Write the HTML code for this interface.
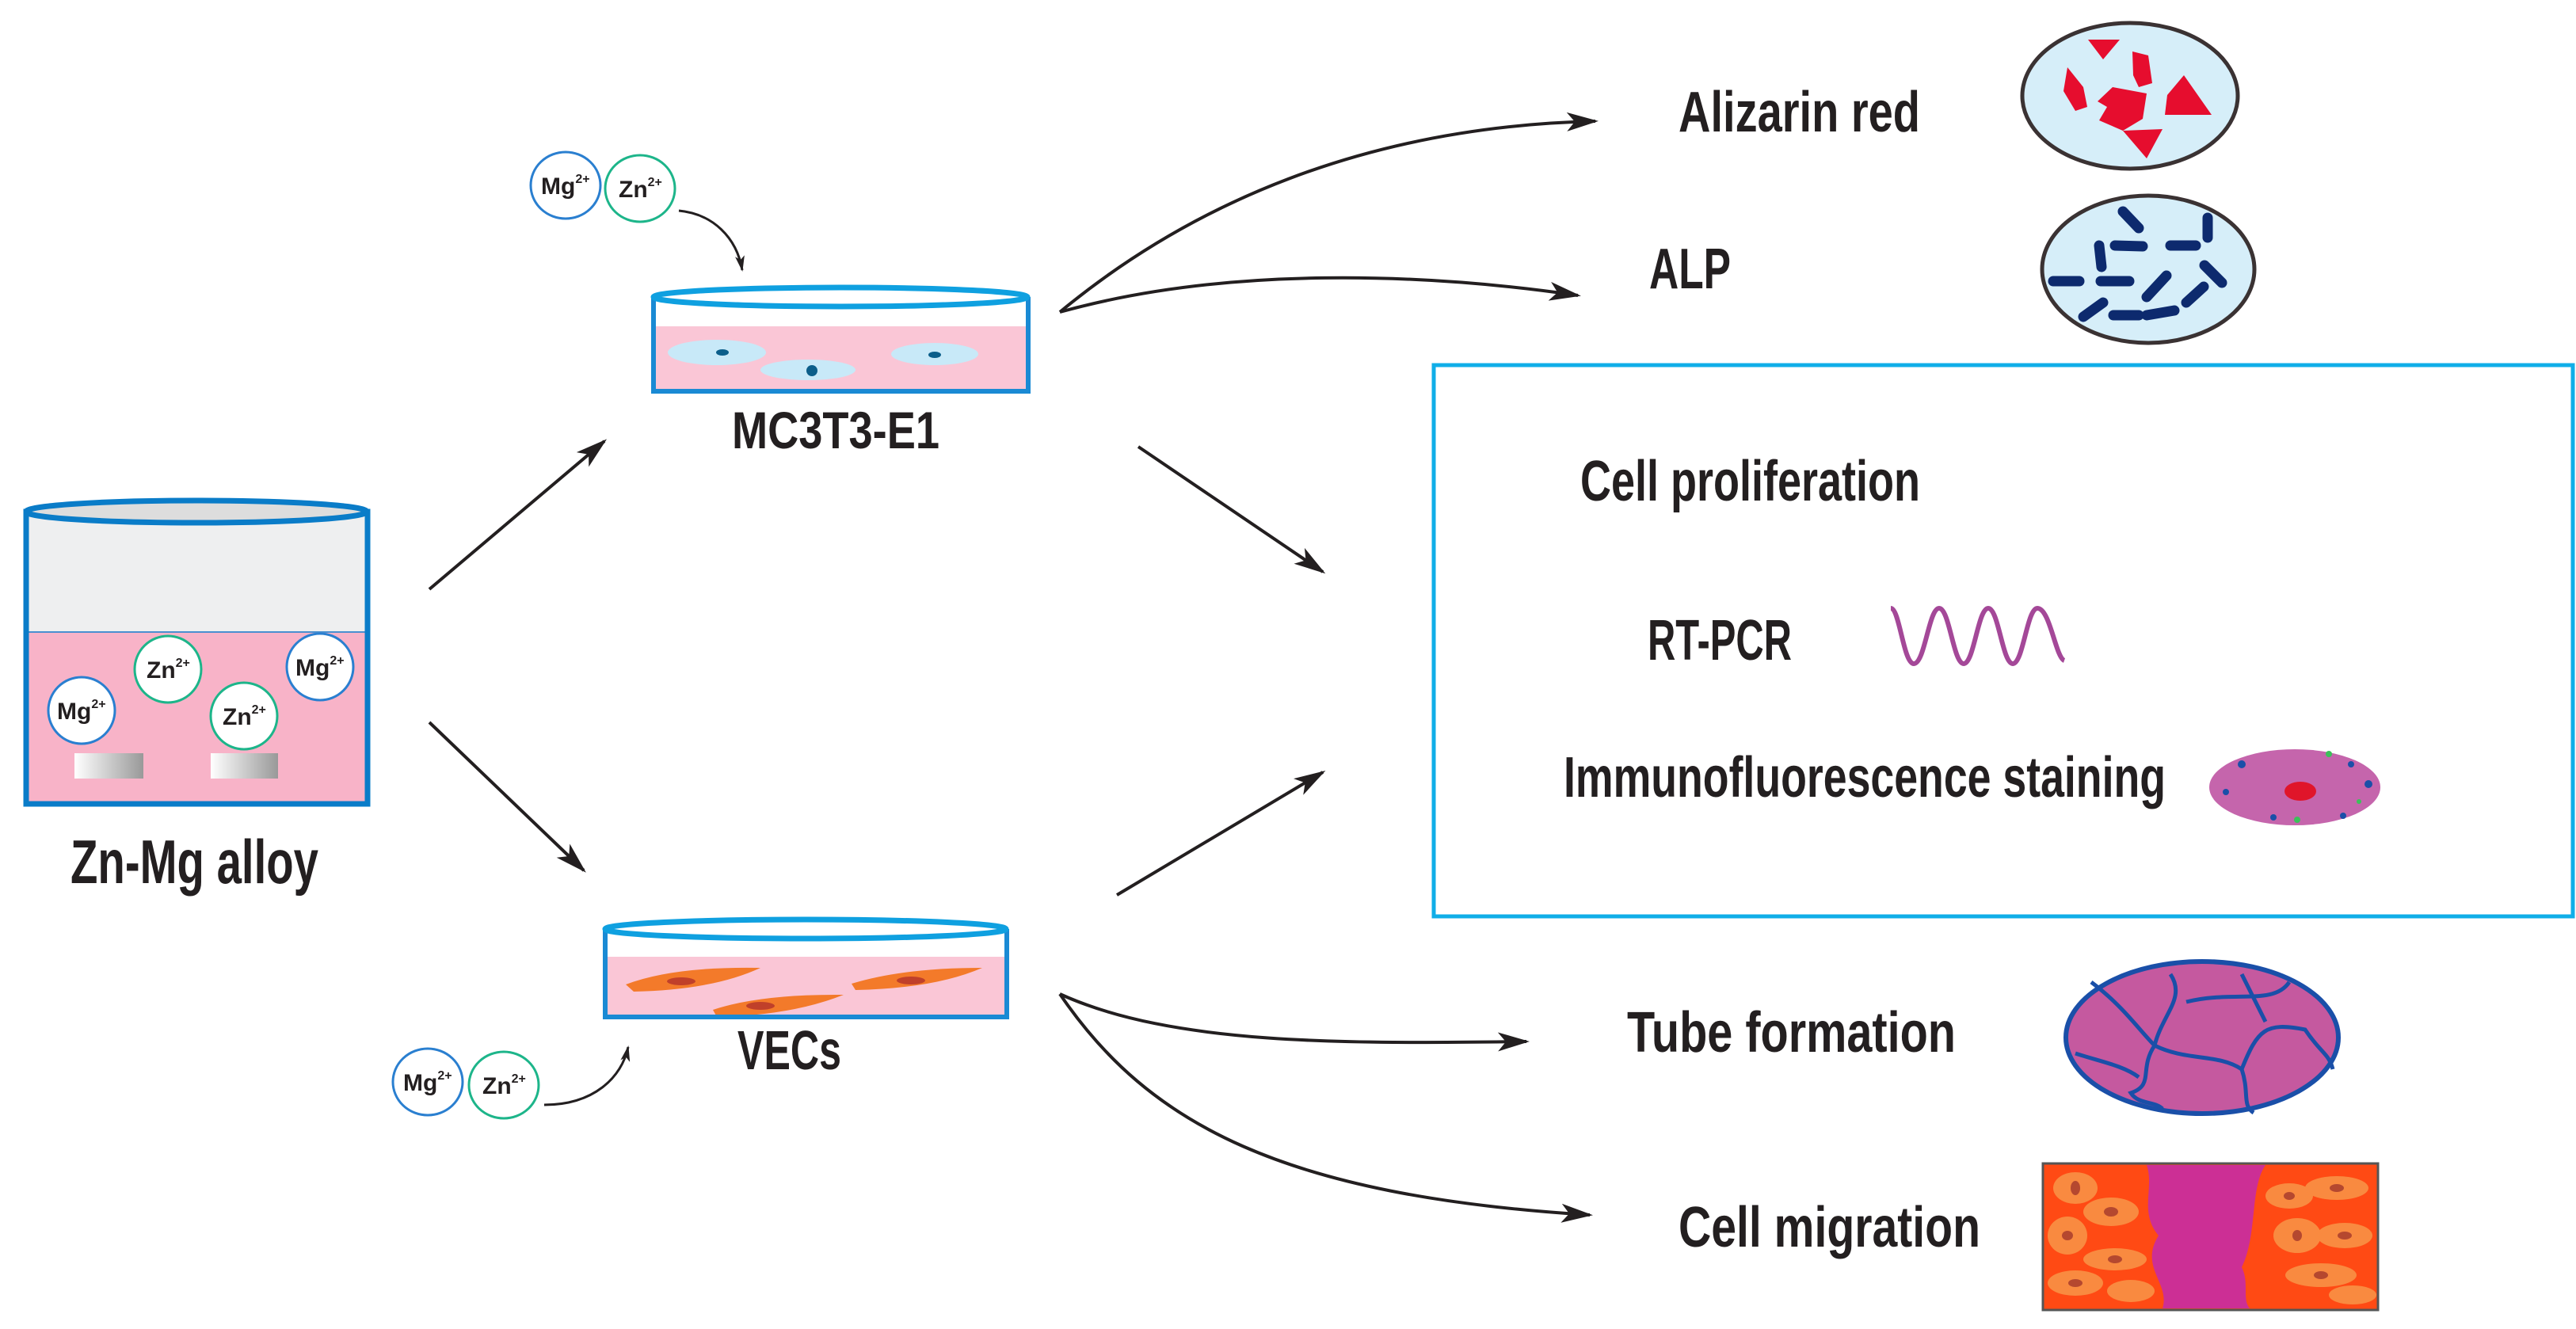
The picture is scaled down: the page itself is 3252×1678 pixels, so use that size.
<!DOCTYPE html>
<html><head><meta charset="utf-8"><style>
html,body{margin:0;padding:0;background:#fff;}
svg{display:block;}
text{font-family:"Liberation Sans",sans-serif;fill:#231f20;font-weight:bold;}
</style></head><body>
<svg width="3252" height="1678" viewBox="0 0 3252 1678" xmlns="http://www.w3.org/2000/svg">
<defs>
<marker id="ah" viewBox="0 0 20 12" refX="18" refY="6" markerWidth="20" markerHeight="12" markerUnits="userSpaceOnUse" orient="auto">
<path d="M0,0 L20,6 L0,12 L5,6 Z" fill="#231f20"/>
</marker>
<marker id="ahb" viewBox="0 0 20 12" refX="18" refY="6" markerWidth="40" markerHeight="24" markerUnits="userSpaceOnUse" orient="auto">
<path d="M0,0 L20,6 L0,12 L5,6 Z" fill="#231f20"/>
</marker>
<linearGradient id="bar" x1="0" x2="1"><stop offset="0" stop-color="#fff"/><stop offset="1" stop-color="#999"/></linearGradient>
</defs>

<!-- Big beaker -->
<rect x="33" y="646" width="431" height="369" fill="#eeeff0"/>
<rect x="33" y="798" width="431" height="217" fill="#f8b3c8"/>
<line x1="33" y1="798" x2="464" y2="798" stroke="#4a90d0" stroke-width="2"/>
<rect x="33" y="646" width="431" height="369" fill="none" stroke="#0a7cc8" stroke-width="7"/>
<ellipse cx="248" cy="646" rx="215" ry="14" fill="#ddd" stroke="#0a7cc8" stroke-width="7"/>
<rect x="94" y="951" width="87" height="32" fill="url(#bar)"/>
<rect x="266" y="951" width="85" height="32" fill="url(#bar)"/>
<g>
<circle cx="103" cy="897" r="42" fill="#fff" stroke="#2a7fd0" stroke-width="3"/><text x="72" y="908" font-size="30">Mg<tspan font-size="16" dy="-14">2+</tspan></text>
<circle cx="212" cy="845" r="42" fill="#fff" stroke="#1db58a" stroke-width="3"/><text x="185" y="856" font-size="30">Zn<tspan font-size="16" dy="-14">2+</tspan></text>
<circle cx="308" cy="904" r="42" fill="#fff" stroke="#1db58a" stroke-width="3"/><text x="281" y="915" font-size="30">Zn<tspan font-size="16" dy="-14">2+</tspan></text>
<circle cx="404" cy="842" r="42" fill="#fff" stroke="#2a7fd0" stroke-width="3"/><text x="373" y="853" font-size="30">Mg<tspan font-size="16" dy="-14">2+</tspan></text>
</g>
<text x="89" y="1115" font-size="78" textLength="313" lengthAdjust="spacingAndGlyphs">Zn-Mg alloy</text>

<!-- MC3T3 dish -->
<rect x="825" y="375" width="473" height="119" fill="#fff"/>
<rect x="825" y="412" width="473" height="82" fill="#fac6d6"/>
<g fill="#c8e9f8">
<ellipse cx="905" cy="445" rx="62" ry="16"/><ellipse cx="1020" cy="467" rx="60" ry="13"/><ellipse cx="1180" cy="447" rx="55" ry="14"/>
</g>
<g fill="#0b5e8a"><ellipse cx="912" cy="445" rx="8" ry="4"/><circle cx="1025" cy="468" r="7"/><ellipse cx="1180" cy="448" rx="8" ry="4"/></g>
<path d="M825,375 V494 H1298 V375" fill="none" stroke="#1a8ad4" stroke-width="6"/>
<ellipse cx="1061" cy="375" rx="236" ry="12" fill="none" stroke="#0fa0e0" stroke-width="7"/>
<text x="924" y="566" font-size="66" textLength="262" lengthAdjust="spacingAndGlyphs">MC3T3-E1</text>
<g>
<ellipse cx="714" cy="234" rx="44" ry="42" fill="#fff" stroke="#2a7fd0" stroke-width="3"/><text x="683" y="245" font-size="30">Mg<tspan font-size="16" dy="-14">2+</tspan></text>
<ellipse cx="808" cy="238" rx="44" ry="42" fill="#fff" stroke="#1db58a" stroke-width="3"/><text x="781" y="249" font-size="30">Zn<tspan font-size="16" dy="-14">2+</tspan></text>
</g>
<path d="M857,266 C900,270 930,300 937,341" fill="none" stroke="#231f20" stroke-width="3" marker-end="url(#ah)"/>

<!-- VEC dish -->
<rect x="764" y="1173" width="507" height="111" fill="#fff"/>
<rect x="764" y="1208" width="507" height="76" fill="#fac6d6"/>
<g fill="#f37a2a">
<path d="M790,1243 Q850,1220 960,1222 Q900,1250 800,1252 Z"/>
<path d="M900,1275 Q960,1255 1065,1256 Q1000,1282 905,1284 Z"/>
<path d="M1075,1242 Q1140,1222 1240,1222 Q1180,1248 1080,1250 Z"/>
</g>
<g fill="#c0402a"><ellipse cx="860" cy="1239" rx="18" ry="5"/><ellipse cx="960" cy="1270" rx="18" ry="5"/><ellipse cx="1150" cy="1238" rx="18" ry="5"/></g>
<path d="M764,1173 V1284 H1271 V1173" fill="none" stroke="#1a8ad4" stroke-width="6"/>
<ellipse cx="1017" cy="1173" rx="253" ry="12" fill="none" stroke="#0fa0e0" stroke-width="7"/>
<text x="931" y="1350" font-size="70" textLength="131" lengthAdjust="spacingAndGlyphs">VECs</text>
<g>
<ellipse cx="540" cy="1366" rx="44" ry="42" fill="#fff" stroke="#2a7fd0" stroke-width="3"/><text x="509" y="1377" font-size="30">Mg<tspan font-size="16" dy="-14">2+</tspan></text>
<ellipse cx="636" cy="1370" rx="44" ry="42" fill="#fff" stroke="#1db58a" stroke-width="3"/><text x="609" y="1381" font-size="30">Zn<tspan font-size="16" dy="-14">2+</tspan></text>
</g>
<path d="M687,1395 C750,1395 785,1360 793,1322" fill="none" stroke="#231f20" stroke-width="3" marker-end="url(#ah)"/>

<!-- main arrows -->
<g stroke="#231f20" stroke-width="4" fill="none" marker-end="url(#ahb)">
<line x1="542" y1="744" x2="763" y2="557"/>
<line x1="542" y1="912" x2="737" y2="1099"/>
<line x1="1437" y1="564" x2="1670" y2="722"/>
<line x1="1410" y1="1130" x2="1670" y2="975"/>
<path d="M1338,394 C1500,260 1720,160 2014,153"/>
<path d="M1338,394 C1550,335 1800,345 1992,373"/>
<path d="M1338,1255 C1480,1320 1700,1318 1927,1315"/>
<path d="M1338,1255 C1450,1420 1620,1510 2007,1534"/>
</g>

<!-- Right labels -->
<text x="2119" y="166" font-size="72" textLength="305" lengthAdjust="spacingAndGlyphs">Alizarin red</text>
<text x="2082" y="364" font-size="72" textLength="103" lengthAdjust="spacingAndGlyphs">ALP</text>
<text x="1995" y="632" font-size="72" textLength="429" lengthAdjust="spacingAndGlyphs">Cell proliferation</text>
<text x="2080" y="833" font-size="72" textLength="182" lengthAdjust="spacingAndGlyphs">RT-PCR</text>
<text x="1974" y="1006" font-size="72" textLength="760" lengthAdjust="spacingAndGlyphs">Immunofluorescence staining</text>
<text x="2054" y="1328" font-size="72" textLength="415" lengthAdjust="spacingAndGlyphs">Tube formation</text>
<text x="2119" y="1574" font-size="72" textLength="381" lengthAdjust="spacingAndGlyphs">Cell migration</text>

<!-- Box -->
<rect x="1810" y="461" width="1438" height="696" fill="none" stroke="#10aee8" stroke-width="5"/>

<!-- Alizarin dish -->
<ellipse cx="2689" cy="121" rx="136" ry="92" fill="#d6eef9" stroke="#3a3233" stroke-width="5"/>
<g fill="#e60d2e">
<path d="M2636,50 L2676,50 L2655,75 Z"/>
<path d="M2610,85 L2630,110 L2635,135 L2620,140 L2605,115 Z"/>
<path d="M2692,65 L2712,70 L2717,105 L2700,110 L2693,95 Z"/>
<path d="M2667,110 L2710,118 L2705,150 L2680,165 L2650,152 L2660,135 L2648,128 Z"/>
<path d="M2757,95 L2792,145 L2733,145 L2736,120 Z"/>
<path d="M2680,165 L2730,163 L2710,200 Z"/>
</g>
<!-- ALP dish -->
<ellipse cx="2712" cy="340" rx="134" ry="93" fill="#d6eef9" stroke="#3a3233" stroke-width="5"/>
<g stroke="#0d2a6e" stroke-width="13" stroke-linecap="round">
<line x1="2680" y1="267" x2="2700" y2="288"/><line x1="2787" y1="275" x2="2787" y2="300"/>
<line x1="2670" y1="310" x2="2705" y2="311"/><line x1="2740" y1="310" x2="2772" y2="310"/>
<line x1="2650" y1="310" x2="2653" y2="337"/><line x1="2592" y1="355" x2="2625" y2="355"/>
<line x1="2652" y1="355" x2="2688" y2="355"/><line x1="2710" y1="375" x2="2735" y2="348"/>
<line x1="2783" y1="335" x2="2805" y2="357"/><line x1="2760" y1="382" x2="2782" y2="362"/>
<line x1="2630" y1="400" x2="2655" y2="382"/><line x1="2668" y1="398" x2="2700" y2="398"/><line x1="2710" y1="398" x2="2745" y2="392"/>
</g>

<!-- RT-PCR wave -->
<path d="M2387,768 C2398,768 2403,838 2416,838 C2430,838 2435,768 2448,768 C2461,768 2466,838 2479,838 C2492,838 2497,768 2510,768 C2523,768 2528,838 2541,838 C2554,838 2559,768 2572,768 C2588,768 2595,830 2606,834" fill="none" stroke="#a44898" stroke-width="6"/>

<!-- Immuno oval -->
<ellipse cx="2897" cy="994" rx="108" ry="48" fill="#c565ac"/>
<ellipse cx="2904" cy="999" rx="20" ry="12" fill="#e0152a"/>
<g fill="#1a4fa8"><circle cx="2830" cy="965" r="5"/><circle cx="2810" cy="1000" r="4"/><circle cx="2870" cy="1032" r="4"/><circle cx="2958" cy="1030" r="4"/><circle cx="2990" cy="990" r="5"/><circle cx="2968" cy="965" r="4"/></g>
<g fill="#3cc05a"><circle cx="2940" cy="952" r="4"/><circle cx="2900" cy="1035" r="4"/><circle cx="2978" cy="1012" r="3"/></g>

<!-- Tube formation -->
<ellipse cx="2780" cy="1310" rx="172" ry="96" fill="#c5599f" stroke="#1a4fa8" stroke-width="6"/>
<g fill="none" stroke="#1a4fa8" stroke-width="5">
<path d="M2640,1240 C2680,1270 2700,1300 2720,1320 C2760,1340 2800,1330 2830,1350"/>
<path d="M2720,1320 C2730,1280 2760,1260 2740,1230"/>
<path d="M2760,1265 C2820,1250 2870,1270 2890,1240"/>
<path d="M2830,1350 C2850,1300 2860,1290 2910,1300 C2930,1330 2940,1330 2945,1350"/>
<path d="M2720,1320 C2700,1350 2720,1370 2690,1380 C2700,1395 2720,1390 2730,1400"/>
<path d="M2830,1350 C2840,1380 2830,1395 2845,1405"/>
<path d="M2620,1330 C2650,1340 2680,1345 2700,1360"/>
<path d="M2830,1230 C2840,1250 2850,1270 2860,1290"/>
</g>

<!-- Cell migration -->
<rect x="2579" y="1469" width="423" height="185" fill="#ff4a14" stroke="#555" stroke-width="3"/>
<path d="M2710,1471 L2860,1471 C2840,1500 2850,1560 2830,1600 C2840,1620 2830,1640 2840,1652 L2730,1652 C2740,1620 2700,1600 2725,1560 C2700,1530 2720,1500 2710,1471 Z" fill="#cc2f95"/>
<g fill="#f98a40">
<ellipse cx="2620" cy="1500" rx="28" ry="20"/><ellipse cx="2665" cy="1530" rx="35" ry="18"/><ellipse cx="2610" cy="1560" rx="25" ry="24"/>
<ellipse cx="2670" cy="1590" rx="40" ry="14"/><ellipse cx="2620" cy="1620" rx="35" ry="16"/><ellipse cx="2690" cy="1630" rx="30" ry="14"/>
<ellipse cx="2890" cy="1510" rx="30" ry="16"/><ellipse cx="2950" cy="1500" rx="40" ry="15"/><ellipse cx="2900" cy="1560" rx="30" ry="22"/>
<ellipse cx="2960" cy="1560" rx="35" ry="16"/><ellipse cx="2930" cy="1610" rx="45" ry="15"/><ellipse cx="2970" cy="1635" rx="30" ry="12"/>
</g>
<g fill="#b5482f">
<ellipse cx="2620" cy="1500" rx="6" ry="9"/><ellipse cx="2665" cy="1530" rx="9" ry="6"/><ellipse cx="2610" cy="1560" rx="7" ry="6"/>
<ellipse cx="2670" cy="1590" rx="9" ry="5"/><ellipse cx="2620" cy="1620" rx="9" ry="5"/><ellipse cx="2890" cy="1510" rx="7" ry="5"/>
<ellipse cx="2950" cy="1500" rx="9" ry="5"/><ellipse cx="2900" cy="1560" rx="6" ry="7"/><ellipse cx="2960" cy="1560" rx="9" ry="5"/><ellipse cx="2930" cy="1610" rx="9" ry="5"/>
</g>
</svg>
</body></html>
